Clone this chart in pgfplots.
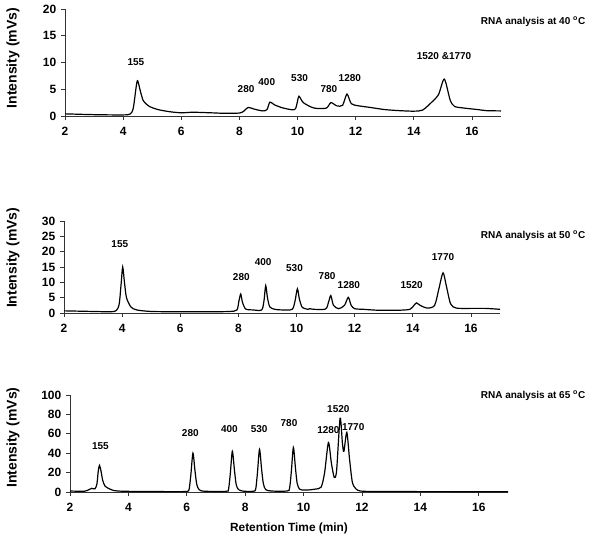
\documentclass[border=0pt]{standalone}
\usepackage{fontspec}
\setmainfont{Liberation Sans}
\usepackage{pgfplots}
\pgfplotsset{compat=1.18}
\tikzset{pk/.style={font=\bfseries\fontsize{7.5}{7.5}\selectfont, anchor=center}}
\pgfplotsset{
  chrom/.style={
    scale only axis,
    anchor=south west,
    axis lines*=left,
    axis line style={-, line width=0.6pt, black!80},
    tick style={line width=0.6pt, black!80},
    tick align=outside,
    major tick length=3pt,
    xmin=2, xmax=17,
    xtick={2,4,...,16},
    /pgf/number format/assume math mode=true,
    tick label style={font=\bfseries\fontsize{9}{9}\selectfont},
    xticklabel style={yshift=-2pt},
    ylabel={Intensity (mVs)},
    ylabel style={font=\bfseries\fontsize{10.5}{10.5}\selectfont, anchor=center},
    clip=false,
  },
  crv/.style={black, line width=0.9pt, smooth, tension=0.45, mark=none},
}
\begin{document}
\begin{tikzpicture}
\useasboundingbox (0,0) rectangle (450pt,406.5pt);
% ---------------- Panel 1: 40 C
\begin{axis}[chrom, at={(48.75pt,319.5pt)}, width=327pt, height=80.25pt,
  ymin=0, ymax=20, ytick={0,5,10,15,20},
  ylabel style={at={(axis description cs:-0.119,0.54)}}]
\addplot[crv] coordinates {
(2.0,0.4) (3.0,0.25) (4.0,0.2) (4.25,0.4) (4.35,1.5) (4.45,5.5) (4.5,6.6)
(4.6,4.5) (4.7,2.8) (4.9,1.8) (5.2,1.2) (5.6,0.8) (6.0,0.6) (6.4,0.7) (7.0,0.6)
(7.5,0.5) (8.0,0.55) (8.15,0.9) (8.3,1.6) (8.5,1.3) (8.8,0.95) (8.95,1.2) (9.05,2.6)
(9.2,2.1) (9.5,1.5) (9.9,1.2) (10.0,2.8) (10.05,3.7) (10.2,2.5) (10.5,1.6) (10.7,1.4)
(11.0,1.5) (11.15,2.5) (11.35,1.9) (11.55,2.0) (11.7,4.1) (11.85,2.3) (12.1,1.9)
(12.5,1.6) (13.0,1.2) (13.5,1.0) (14.0,0.9) (14.3,1.1) (14.6,2.5) (14.85,4.0)
(15.05,6.9) (15.25,3.0) (15.4,1.8) (15.7,1.5) (16.2,1.2) (16.5,1.0) (17.0,0.95)
};
\node[pk] at (axis cs:4.44,10.1) {155};
\node[pk] at (axis cs:8.23,5.0) {280};
\node[pk] at (axis cs:8.94,6.4) {400};
\node[pk] at (axis cs:10.07,7.1) {530};
\node[pk] at (axis cs:11.08,5.0) {780};
\node[pk] at (axis cs:11.8,7.1) {1280};
\node[pk] at (axis cs:15.04,11.2) {1520 \&1770};
\end{axis}
% ---------------- Panel 2: 50 C
\begin{axis}[chrom, at={(48pt,171.75pt)}, width=327pt, height=69pt,
  ymin=0, ymax=30, ytick={0,5,...,30},
  ylabel style={at={(axis description cs:-0.117,0.60)}}]
\addplot[crv] coordinates {
(2.0,0.7) (3.0,0.5) (3.6,0.4) (3.8,0.8) (3.9,3) (3.97,10) (4.02,15) (4.08,10)
(4.15,5) (4.3,2) (4.5,1) (5.0,0.5) (6.0,0.4) (7.0,0.4) (7.7,0.5) (7.95,1) (8.02,4)
(8.08,6.2) (8.14,3.5) (8.25,1.3) (8.5,1.0) (8.8,1.0) (8.88,4) (8.94,8.9) (9.0,5)
(9.08,2) (9.25,1.2) (9.5,1.0) (9.85,1.2) (9.95,4) (10.03,7.9) (10.1,4.5) (10.2,1.8)
(10.4,1.2) (10.45,1.4) (10.6,1.2) (11.0,1.3) (11.1,3.5) (11.18,5.7) (11.27,2.5)
(11.45,1.4) (11.65,2.5) (11.78,5.1) (11.88,2.5) (12.0,1.4) (12.3,1.2) (12.8,0.9)
(13.5,0.9) (13.9,1.2) (14.05,2.6) (14.13,3.3) (14.25,2.5) (14.5,1.6) (14.75,2.5)
(14.9,8) (15.04,13.1) (15.15,9) (15.3,3) (15.5,1.6) (16.0,1.5) (16.5,1.5) (17.0,1.2)
};
\node[pk] at (axis cs:3.92,22.5) {155};
\node[pk] at (axis cs:8.1,11.7) {280};
\node[pk] at (axis cs:8.85,16.6) {400};
\node[pk] at (axis cs:9.93,14.5) {530};
\node[pk] at (axis cs:11.05,11.9) {780};
\node[pk] at (axis cs:11.8,9.0) {1280};
\node[pk] at (axis cs:13.96,9.0) {1520};
\node[pk] at (axis cs:15.04,18.3) {1770};
\end{axis}
% ---------------- Panel 3: 65 C
\begin{axis}[chrom, at={(52.5pt,37.5pt)}, width=328.5pt, height=72.75pt,
  ymin=0, ymax=100, ytick={0,20,...,100},
  ylabel style={at={(axis description cs:-0.130,0.56)}},
  xlabel={Retention Time (min)},
  xlabel style={font=\bfseries\fontsize{8.9}{8.9}\selectfont, at={(axis description cs:0.5,-0.371)}, anchor=center}]
\addplot[crv] coordinates {
(2.0,1.0) (2.5,0.8) (2.65,2.5) (2.75,3.8) (2.85,3.2) (2.92,8) (2.97,22) (3.01,27.4)
(3.06,22) (3.12,12) (3.2,6) (3.3,4) (3.5,1.5) (3.8,0.8) (4.5,0.5) (5.5,0.4)
(6.0,0.6) (6.08,3) (6.14,18) (6.21,40) (6.28,22) (6.34,8) (6.42,2.5) (6.6,0.8)
(7.35,0.7) (7.43,3) (7.49,19) (7.56,42) (7.63,23) (7.69,8) (7.77,2.5) (7.95,0.8)
(8.28,0.8) (8.36,3) (8.42,20) (8.49,44) (8.56,24) (8.62,9) (8.7,2.5) (8.9,1)
(9.44,1) (9.52,4) (9.58,21) (9.65,46) (9.72,25) (9.78,9) (9.86,3) (10.0,2) (10.2,2.2)
(10.4,3) (10.6,5) (10.72,20) (10.85,51) (10.95,30) (11.05,15) (11.13,22)
(11.25,76) (11.33,50) (11.38,42) (11.48,61.5) (11.57,35) (11.67,10) (11.8,3)
(11.95,1) (12.3,0.6) (14.0,0.4) (17.0,0.3)
};
\node[pk] at (axis cs:3.04,47.6) {155};
\node[pk] at (axis cs:6.12,60.5) {280};
\node[pk] at (axis cs:7.46,64.6) {400};
\node[pk] at (axis cs:8.48,64.6) {530};
\node[pk] at (axis cs:9.5,71.5) {780};
\node[pk] at (axis cs:10.85,64) {1280};
\node[pk] at (axis cs:11.19,85.6) {1520};
\node[pk] at (axis cs:11.7,67) {1770};
\end{axis}
% titles
\node[anchor=east, font=\bfseries\fontsize{7.5}{7.5}\selectfont] at (442.5pt,390pt) {RNA analysis at 40 \textsuperscript{o}C};
\node[anchor=east, font=\bfseries\fontsize{7.5}{7.5}\selectfont] at (442.5pt,229.5pt) {RNA analysis at 50 \textsuperscript{o}C};
\node[anchor=east, font=\bfseries\fontsize{7.5}{7.5}\selectfont] at (442.5pt,109.5pt) {RNA analysis at 65 \textsuperscript{o}C};
\end{tikzpicture}
\end{document}
